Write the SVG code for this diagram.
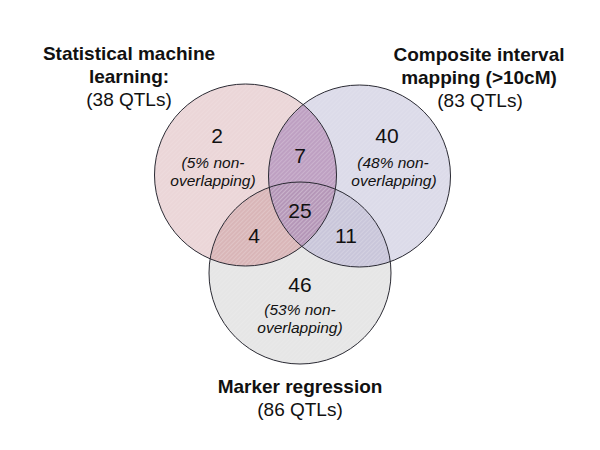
<svg xmlns="http://www.w3.org/2000/svg" width="600" height="450" viewBox="0 0 600 450">
<defs>
<style>
.title{font-family:"Liberation Sans",Arial,sans-serif;font-weight:bold;font-size:19px;fill:#111;text-anchor:middle}
.sub{font-family:"Liberation Sans",Arial,sans-serif;font-size:19px;fill:#111;text-anchor:middle}
.num{font-family:"Liberation Sans",Arial,sans-serif;font-size:21px;fill:#111;text-anchor:middle}
.pct{font-family:"Liberation Sans",Arial,sans-serif;font-style:italic;font-size:15.5px;fill:#111;text-anchor:middle}
.edge{fill:none;stroke:#2a2a33;stroke-width:1}
</style>
<clipPath id="cL"><circle cx="245.5" cy="175" r="91"/></clipPath>
<clipPath id="cR"><circle cx="359.5" cy="176" r="91"/></clipPath>
<pattern id="hatch" width="3" height="3" patternUnits="userSpaceOnUse" patternTransform="rotate(45)">
<line x1="0" y1="0" x2="0" y2="3" stroke="#ffffff" stroke-width="0.8" stroke-opacity="0.25"/>
</pattern>
</defs>
<rect width="600" height="450" fill="#ffffff"/>
<g id="regions">
<circle cx="300" cy="273" r="91" fill="#e6e6e6"/>
<circle cx="245.5" cy="175" r="91" fill="#ebd6d8"/>
<circle cx="359.5" cy="176" r="91" fill="#dcdbe9"/>
<circle cx="300" cy="273" r="91" fill="#d9b6b8" clip-path="url(#cL)"/>
<circle cx="300" cy="273" r="91" fill="#c9c6da" clip-path="url(#cR)"/>
<circle cx="359.5" cy="176" r="91" fill="#bea0c2" clip-path="url(#cL)"/>
<g clip-path="url(#cR)"><circle cx="300" cy="273" r="91" fill="#b597b8" clip-path="url(#cL)"/></g>
<circle cx="300" cy="273" r="91" fill="url(#hatch)"/>
<circle cx="245.5" cy="175" r="91" fill="url(#hatch)"/>
<circle cx="359.5" cy="176" r="91" fill="url(#hatch)"/>
</g>
<g id="set-sml">
<circle class="edge" cx="245.5" cy="175" r="91"/>
<text class="title" x="129" y="60">Statistical machine</text>
<text class="title" x="129" y="83">learning:</text>
<text class="sub" x="129" y="106">(38 QTLs)</text>
<text class="num" x="217" y="143">2</text>
<text class="pct" x="213" y="168">(5% non-</text>
<text class="pct" x="213" y="186">overlapping)</text>
</g>
<g id="set-cim">
<circle class="edge" cx="359.5" cy="176" r="91"/>
<text class="title" x="479" y="61">Composite interval</text>
<text class="title" x="479" y="84">mapping (&gt;10cM)</text>
<text class="sub" x="480" y="107">(83 QTLs)</text>
<text class="num" x="387" y="143">40</text>
<text class="pct" x="393" y="168">(48% non-</text>
<text class="pct" x="394" y="186">overlapping)</text>
</g>
<g id="set-mr">
<circle class="edge" cx="300" cy="273" r="91"/>
<text class="title" x="300" y="393">Marker regression</text>
<text class="sub" x="300" y="416">(86 QTLs)</text>
<text class="num" x="300" y="292">46</text>
<text class="pct" x="300" y="315">(53% non-</text>
<text class="pct" x="300" y="333">overlapping)</text>
</g>
<g id="overlaps">
<text class="num" x="300" y="163">7</text>
<text class="num" x="300" y="218">25</text>
<text class="num" x="254" y="243">4</text>
<text class="num" x="346" y="243">11</text>
</g>
</svg>
